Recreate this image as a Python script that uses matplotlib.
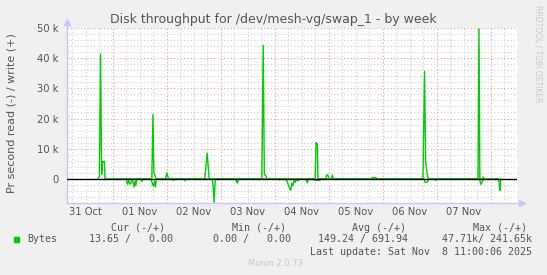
#!/usr/bin/env python3
# -*- coding: utf-8 -*-

import matplotlib
matplotlib.use("Agg")
import matplotlib.pyplot as plt
from matplotlib.patches import Rectangle
from matplotlib.ticker import MultipleLocator, FuncFormatter

# Time axis: hours since 01 Nov 00:00, last update Sat Nov 8 11:00
write_hours = [-6.7, -6.0, -5.5, -5.0, -4.6, -3.8, -3.5,
               17.3, 17.8, 18.2, 18.8, 19.2,
               23.3, 24.0, 24.6, 25.0,
               40.8, 41.9, 42.8,
               66.2, 66.8, 67.3, 68.0, 68.5,
               89.9, 90.3, 90.9, 91.1,
               94.6, 95.0, 95.5, 96.0, 97.2, 97.5, 97.9,
               114.8, 115.2, 116.9, 117.3,
               137.8, 138.5, 139.0, 139.7, 140.2,
               162.3, 162.7, 163.1, 164.3, 164.6, 165.0]
write_bytes = [0, 800, 41300, 1500, 5700, 5700, 0,
               0, 21300, 2000, 800, 0,
               0, 1900, 300, 0,
               0, 8500, 0,
               0, 44300, 1500, 1000, 0,
               0, 12000, 11500, 0,
               0, 1300, 1300, 0, 0, 1300, 0,
               0, 400, 400, 0,
               0, 35600, 5500, 1500, 0,
               0, 49700, 0, 0, 600, 0]

read_hours = [5.9, 6.5, 7.0, 7.6, 8.0, 8.5, 9.0, 9.4, 9.8, 10.2, 10.6,
              12.5, 12.9, 13.3,
              17.0, 17.5, 18.0, 18.5, 18.9, 19.3,
              26.5, 26.8, 27.1, 31.7, 32.0, 32.3,
              44.2, 44.6, 45.0, 45.5,
              54.3, 54.8, 55.3, 55.8,
              73.6, 73.9, 74.2, 76.8, 77.5, 78.2, 79.0, 79.5, 80.0, 80.5,
              81.0, 81.5, 82.4, 83.0, 85.9, 86.4, 86.9,
              91.1, 91.8, 92.2,
              138.3, 138.8, 139.8, 140.3,
              143.3, 143.6, 143.9,
              163.0, 163.4, 164.0, 164.5, 165.0,
              171.3, 171.7, 172.0, 172.4]
read_bytes = [0, 1800, 600, 1800, 1400, 400, 1200, 2700, 800, 2300, 0,
              0, 900, 0,
              0, 1500, 2400, 800, 2700, 0,
              0, 500, 0, 0, 600, 0,
              0, 3000, 7900, 0,
              0, 700, 1400, 0,
              0, 400, 0, 0, 1000, 2500, 3800, 1500, 2300, 600,
              1200, 300, 600, 0, 0, 1300, 0,
              500, 500, 0,
              0, 1200, 1100, 0,
              0, 500, 0,
              0, 1800, 1200, 300, 0,
              0, 1500, 3900, 0]

day_labels = ["31 Oct", "01 Nov", "02 Nov", "03 Nov",
              "04 Nov", "05 Nov", "06 Nov", "07 Nov"]
label_hours = [-12, 12, 36, 60, 84, 108, 132, 156]

legend_head = ["Cur (-/+)", "Min (-/+)", "Avg (-/+)", "Max (-/+)"]
legend_vals = ["13.65 /   0.00", "0.00 /   0.00",
               "149.24 / 691.94", "47.71k/ 241.65k"]

W, H = 547, 275
BG = "#f0f0f0"
TXT = "#555555"
GREEN = "#00cc00"
AXIS = "#c8c8f8"

fig = plt.figure(figsize=(W / 100, H / 100), dpi=100, facecolor=BG)
ax = fig.add_axes([67 / W, 1 - 203 / H, (517 - 67) / W, (203 - 28) / H])
ax.set_facecolor("white")

ax.set_xlim(-20.4, 179.6)
ax.set_ylim(-8000, 50000)

# grid: minor every 6 h / 2 k, major every day / 10 k
ax.xaxis.set_major_locator(MultipleLocator(24))
ax.xaxis.set_minor_locator(MultipleLocator(6))
ax.yaxis.set_major_locator(MultipleLocator(10000))
ax.yaxis.set_minor_locator(MultipleLocator(2000))
ax.grid(which="minor", color="#cfcfcf", linestyle=(0, (1, 2)), linewidth=0.8)
ax.grid(which="major", color="#e4a0a0", linestyle=(0, (1, 2)), linewidth=0.8)
ax.set_axisbelow(True)

ax.tick_params(which="both", length=0, labelsize=7.2, colors=TXT, pad=6)
ax.yaxis.set_major_formatter(
    FuncFormatter(lambda v, p: "0" if v == 0 else "%d k" % (v / 1000)))
ax.set_xticklabels([])

for h, lab in zip(label_hours, day_labels):
    ax.text(h, -0.05, lab, transform=ax.get_xaxis_transform(),
            ha="center", va="center", fontsize=7.2, color=TXT)

for s in ax.spines.values():
    s.set_visible(False)

# axis lines with arrows
ax.plot([0, 0], [0, 1.03], color=AXIS, lw=1, transform=ax.transAxes,
        clip_on=False)
ax.plot([0, 1.01], [0, 0], color=AXIS, lw=1, transform=ax.transAxes,
        clip_on=False)
ax.plot([0], [1.035], marker="^", color=AXIS, ms=5, transform=ax.transAxes,
        clip_on=False)
ax.plot([1.012], [0], marker=">", color=AXIS, ms=5, transform=ax.transAxes,
        clip_on=False)

ax.plot(write_hours, write_bytes, color=GREEN, lw=1, zorder=4)
ax.plot(read_hours, [-v for v in read_bytes], color=GREEN, lw=1, zorder=4)
ax.axhline(0, color="black", lw=1, zorder=5)


def fx(px):
    return px / W


def fy(py):
    return 1 - py / H


fig.text(fx(273), fy(19), "Disk throughput for /dev/mesh-vg/swap_1 - by week",
         ha="center", va="center", fontsize=9, color=TXT)
fig.text(fx(12), fy(113), "Pr second read (-) / write (+)", rotation=90,
         ha="center", va="center", fontsize=8, color=TXT)
fig.text(fx(538), fy(54), "RRDTOOL / TOBI OETIKER", rotation=270,
         ha="center", va="center", fontsize=5.5, color="#c8c8c8")
fig.text(fx(248), fy(264), "Munin 2.0.73", ha="left", va="center",
         fontsize=6, color="#c8c8c8")

mono = dict(family="DejaVu Sans Mono", fontsize=7.2, color=TXT, va="center")
for x, t in zip([111, 232, 352, 473], legend_head):
    fig.text(fx(x), fy(227.7), t, ha="left", **mono)
fig.add_artist(Rectangle((fx(14), fy(242)), 5 / W, 5 / H,
                         transform=fig.transFigure, color=GREEN))
fig.text(fx(27), fy(239.3), "Bytes", ha="left", **mono)
for x, t in zip([89, 213, 318, 442], legend_vals):
    fig.text(fx(x), fy(239.3), t, ha="left", **mono)
fig.text(fx(532), fy(251.7), "Last update: Sat Nov  8 11:00:06 2025",
         ha="right", **mono)

fig.savefig("out.png", dpi=100, facecolor=BG)
